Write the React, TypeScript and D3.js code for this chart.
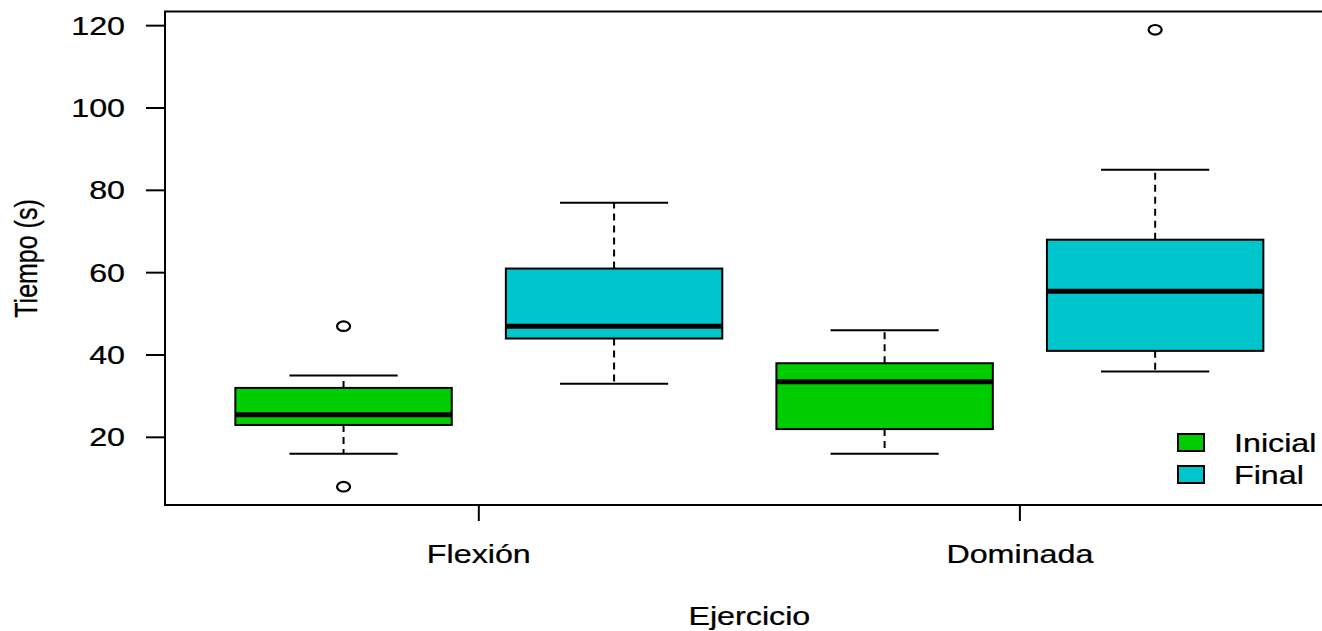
import React, { useEffect, useRef } from 'react'
import * as d3 from 'd3'

// boxplot stats, order: Flexión Inicial, Flexión Final, Dominada Inicial, Dominada Final
const groups = ['Flexión', 'Dominada']
const series = ['Inicial', 'Final']
const seriesColors = ['#00CD00', '#00C5CD']
const whiskerLow = [16, 33, 16, 36]
const q1 = [23, 44, 22, 41]
const median = [25.5, 47, 33.5, 55.5]
const q3 = [32, 61, 38, 68]
const whiskerHigh = [35, 77, 46, 85]
const outliers = [[47, 8], [], [], [119]]
const yTicks = [20, 40, 60, 80, 100, 120]

export default function App() {
    const svgRef = useRef<SVGSVGElement>(null)

    const width = 1322
    const height = 631
    const stretch = 1.29 // the original image is stretched sideways
    const fontSize = 25

    useEffect(() => {
        const svg = d3.select(svgRef.current)
        svg.selectAll('*').remove()

        const x = d3.scaleLinear().domain([0.34, 4.66]).range([165, 1333.7])
        const y = d3.scaleLinear().domain([3.56, 123.44]).range([505, 11.5])

        const text = (tx: number, ty: number, label: string, anchor: string, rot = false) =>
            svg.append('text')
                .attr('transform', `translate(${tx},${ty}) scale(${stretch},1)` + (rot ? ' rotate(-90)' : ''))
                .attr('text-anchor', anchor)
                .attr('font-family', '"Liberation Sans", Arial, sans-serif')
                .attr('font-size', fontSize)
                .attr('fill', '#000')
                .attr('stroke', '#000')
                .attr('stroke-width', 0.25)
                .text(label)

        const boxes = d3.range(4).map(i => ({
            pos: i + 1,
            color: seriesColors[i % 2],
            lo: whiskerLow[i], q1: q1[i], med: median[i], q3: q3[i], hi: whiskerHigh[i],
            out: outliers[i]
        }))

        const g = svg.append('g')

        boxes.forEach(b => {
            const cx = x(b.pos)
            // dashed whiskers
            g.append('line').attr('x1', cx).attr('x2', cx).attr('y1', y(b.q3)).attr('y2', y(b.hi))
                .attr('stroke', '#000').attr('stroke-width', 2).attr('stroke-dasharray', '7,5')
            g.append('line').attr('x1', cx).attr('x2', cx).attr('y1', y(b.q1)).attr('y2', y(b.lo))
                .attr('stroke', '#000').attr('stroke-width', 2).attr('stroke-dasharray', '7,5')
            // caps
            ;[b.lo, b.hi].forEach(v => {
                g.append('line').attr('x1', x(b.pos - 0.2)).attr('x2', x(b.pos + 0.2))
                    .attr('y1', y(v)).attr('y2', y(v))
                    .attr('stroke', '#000').attr('stroke-width', 2)
            })
            // box
            g.append('rect')
                .attr('x', x(b.pos - 0.4)).attr('width', x(b.pos + 0.4) - x(b.pos - 0.4))
                .attr('y', y(b.q3)).attr('height', y(b.q1) - y(b.q3))
                .attr('fill', b.color).attr('stroke', '#000').attr('stroke-width', 2)
            // median
            g.append('line').attr('x1', x(b.pos - 0.4)).attr('x2', x(b.pos + 0.4))
                .attr('y1', y(b.med)).attr('y2', y(b.med))
                .attr('stroke', '#000').attr('stroke-width', 5)
            // outliers
            b.out.forEach(v => {
                g.append('ellipse').attr('cx', cx).attr('cy', y(v))
                    .attr('rx', 6.5).attr('ry', 4.8)
                    .attr('fill', 'none').attr('stroke', '#000').attr('stroke-width', 2.2)
            })
        })

        // plot frame
        svg.append('rect')
            .attr('x', 165).attr('y', 11.5)
            .attr('width', 1333.7 - 165).attr('height', 505 - 11.5)
            .attr('fill', 'none').attr('stroke', '#000').attr('stroke-width', 2)

        // y axis
        yTicks.forEach(t => {
            svg.append('line').attr('x1', 146).attr('x2', 165).attr('y1', y(t)).attr('y2', y(t))
                .attr('stroke', '#000').attr('stroke-width', 2)
            text(125, y(t) + 9, String(t), 'end')
        })

        // x axis, group ticks halfway between the pair of boxes
        groups.forEach((grp, i) => {
            const gx = x(i * 2 + 1.5)
            svg.append('line').attr('x1', gx).attr('x2', gx).attr('y1', 505).attr('y2', 521)
                .attr('stroke', '#000').attr('stroke-width', 2)
            text(gx, 563, grp, 'middle')
        })

        text(x(2.5), 625, 'Ejercicio', 'middle')
        text(37, 258.5, 'Tiempo (s)', 'middle', true)

        // legend
        series.forEach((s, i) => {
            const ly = 442.5 + i * 32
            svg.append('rect').attr('x', 1178).attr('y', ly - 8.5).attr('width', 26).attr('height', 17)
                .attr('fill', seriesColors[i]).attr('stroke', '#000').attr('stroke-width', 2)
            text(1234, ly + 9, s, 'start')
        })
    }, [])

    return (
        <svg ref={svgRef} width={width} height={height}
            style={{ position: 'absolute', left: 0, top: 0, background: '#fff' }} />
    )
}
